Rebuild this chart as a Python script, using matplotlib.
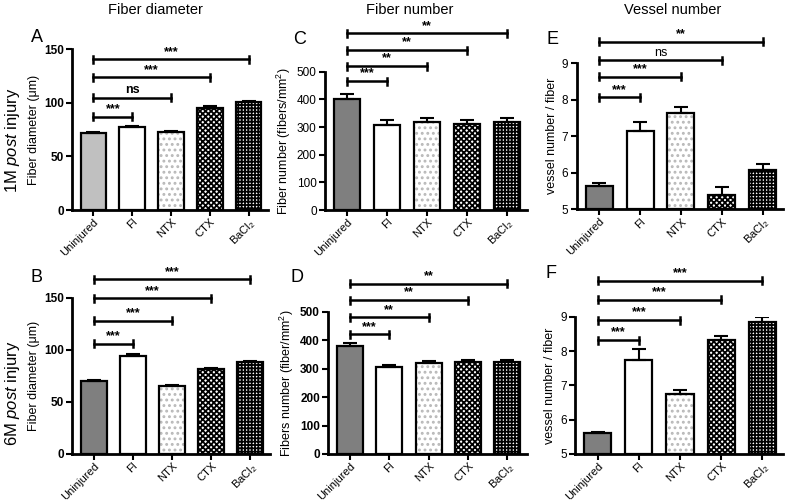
import matplotlib
matplotlib.use("Agg")
import matplotlib.pyplot as plt
import numpy as np

plt.rcParams['font.family'] = ['Liberation Sans', 'DejaVu Sans']
plt.rcParams['mathtext.fontset'] = 'custom'
plt.rcParams['mathtext.rm'] = 'Liberation Sans'
plt.rcParams['mathtext.it'] = 'Liberation Sans:italic'
plt.rcParams['mathtext.bf'] = 'Liberation Sans:bold'
plt.rcParams['hatch.linewidth'] = 1.3

# data
groups = ['Uninjured', 'FI', 'NTX', 'CTX', 'BaCl$_2$']

diam_1m = [71.8, 77.5, 73.0, 95.5, 100.5]
diam_1m_err = [0.8, 1.0, 0.7, 1.5, 1.2]
diam_6m = [70.5, 94.0, 65.0, 82.0, 88.5]
diam_6m_err = [0.8, 1.5, 0.8, 0.8, 0.8]

fnum_1m = [400, 307, 319, 311, 317]
fnum_1m_err = [20, 18, 12, 14, 14]
fnum_6m = [380, 304, 318, 324, 324]
fnum_6m_err = [11, 10, 10, 8, 8]

vess_1m = [5.65, 7.15, 7.65, 5.39, 6.08]
vess_1m_err = [0.06, 0.24, 0.14, 0.21, 0.15]
vess_6m = [5.60, 7.74, 6.75, 8.32, 8.85]
vess_6m_err = [0.05, 0.31, 0.11, 0.12, 0.15]

# significance vs Uninjured (FI, NTX, CTX, BaCl2)
sig_A = ['***', 'ns', '***', '***']
sig_B = ['***', '***', '***', '***']
sig_C = ['***', '**', '**', '**']
sig_D = ['***', '**', '**', '**']
sig_E = ['***', '***', 'ns', '**']
sig_F = ['***', '***', '***', '***']

W, H = 787, 504
fig = plt.figure(figsize=(W / 100, H / 100), dpi=100)


def px_axes(x0, x1, ytop, ybot):
    return fig.add_axes([x0 / W, 1 - ybot / H, (x1 - x0) / W, (ybot - ytop) / H])


panels = [
    dict(box=(72, 268, 49.3, 210), ylim=(0, 150), ticks=[0, 50, 100, 150], vals=diam_1m, err=diam_1m_err,
         sig=sig_A, hb=[87.2, 105, 123.8, 140.6], ylabel='Fiber diameter (μm)', letter='A',
         lpos=(37, 38), bold=True, gray='#c0c0c0', nsbold=True),
    dict(box=(72, 270, 297.7, 454), ylim=(0, 150), ticks=[0, 50, 100, 150], vals=diam_6m, err=diam_6m_err,
         sig=sig_B, hb=[105.6, 127.9, 149.4, 167.7], ylabel='Fiber diameter (μm)', letter='B',
         lpos=(37, 277), bold=True, gray='#7f7f7f', nsbold=True),
    dict(box=(325, 527, 71.7, 210), ylim=(0, 500), ticks=[0, 100, 200, 300, 400, 500], vals=fnum_1m,
         err=fnum_1m_err, sig=sig_C, hb=[466, 520.6, 578, 638.8], ylabel='Fiber number (fibers/mm$^2$)',
         letter='C', lpos=(300, 40), bold=False, gray='#7f7f7f', nsbold=False),
    dict(box=(328.3, 527, 311.7, 454), ylim=(0, 500), ticks=[0, 100, 200, 300, 400, 500], vals=fnum_6m,
         err=fnum_6m_err, sig=sig_D, hb=[420, 480, 541, 599], ylabel='Fibers number (fiber/mm$^2$)',
         letter='D', lpos=(297, 277), bold=True, gray='#7f7f7f', nsbold=False),
    dict(box=(576.7, 783, 63.3, 209.3), ylim=(5, 9), ticks=[5, 6, 7, 8, 9], vals=vess_1m, err=vess_1m_err,
         sig=sig_E, hb=[8.07, 8.63, 9.09, 9.59], ylabel='vessel number / fiber', letter='E',
         lpos=(553, 40), bold=False, gray='#7f7f7f', nsbold=False),
    dict(box=(575, 783, 316.7, 454), ylim=(5, 9), ticks=[5, 6, 7, 8, 9], vals=vess_6m, err=vess_6m_err,
         sig=sig_F, hb=[8.32, 8.90, 9.49, 10.05], ylabel='vessel number / fiber', letter='F',
         lpos=(551, 273), bold=False, gray='#7f7f7f', nsbold=False),
]

x = np.arange(len(groups))
bw = 0.66

for p in panels:
    x0, x1, yt, yb = p['box']
    ax = px_axes(x0, x1, yt, yb)
    lo, hi = p['ylim']
    vals = np.array(p['vals'])
    base = lo
    heights = vals - base

    fills = [p['gray'], 'white', 'white', 'white', 'white']
    hatches = [None, None, '...', 'xxxxxx', '+++++']
    hcols = [None, None, '#b8b8b8', 'black', 'black']
    for i in range(len(groups)):
        if hatches[i]:
            ax.bar(x[i], heights[i], bw, bottom=base, color=fills[i], edgecolor=hcols[i],
                   hatch=hatches[i], linewidth=0, zorder=2)
            ax.bar(x[i], heights[i], bw, bottom=base, fill=False, edgecolor='black',
                   linewidth=1.6, zorder=3)
        else:
            ax.bar(x[i], heights[i], bw, bottom=base, color=fills[i], edgecolor='black',
                   linewidth=1.6, zorder=3)
    err = np.array(p['err'])
    ax.errorbar(x, vals, yerr=[np.zeros_like(err), err], fmt='none', ecolor='black',
                elinewidth=1.5, capsize=5, capthick=1.5, zorder=4)

    ax.set_xlim(-0.55, 4.5)
    ax.set_ylim(lo, hi)
    ax.set_yticks(p['ticks'])
    ax.set_xticks(x)
    ax.set_xticklabels(groups, rotation=45, ha='right', rotation_mode='anchor', fontsize=8)
    for lab in ax.get_yticklabels():
        lab.set_fontsize(8.5)
        if p['bold']:
            lab.set_fontweight('bold')
    ax.set_ylabel(p['ylabel'], fontsize=9, labelpad=3)
    for s in ['top', 'right']:
        ax.spines[s].set_visible(False)
    for s in ['left', 'bottom']:
        ax.spines[s].set_linewidth(2)
    ax.tick_params(axis='both', width=1.5, length=4, pad=2)
    ax.tick_params(axis='x', pad=1)
    ax.patch.set_alpha(0)

    # significance brackets
    unit = (hi - lo) / (yb - yt)  # data units per pixel
    d = 3.5 * unit
    for i, (s, hy) in enumerate(zip(p['sig'], p['hb']), start=1):
        ax.plot([0, i], [hy, hy], color='black', lw=1.8, clip_on=False, zorder=5)
        ax.plot([0, 0], [hy - d, hy + d], color='black', lw=1.8, clip_on=False, zorder=5)
        ax.plot([i, i], [hy - d, hy + d], color='black', lw=1.8, clip_on=False, zorder=5)
        weight = 'bold' if (s != 'ns' or p['nsbold']) else 'normal'
        ax.text(i / 2, hy + 1.5 * unit, s, ha='center', va='bottom', fontsize=9,
                fontweight=weight, clip_on=False)

    fig.text(p['lpos'][0] / W, 1 - p['lpos'][1] / H, p['letter'], ha='center', va='center', fontsize=13)

# column titles
for t, cx in [('Fiber diameter', 155), ('Fiber number', 410), ('Vessel number', 673)]:
    fig.text(cx / W, 1 - 10 / H, t, ha='center', va='center', fontsize=10.5)

# row labels
fig.text(13 / W, 1 - 140 / H, '1M $\\mathit{post}$ injury', rotation=90, ha='center', va='center', fontsize=12)
fig.text(13 / W, 1 - 393 / H, '6M $\\mathit{post}$ injury', rotation=90, ha='center', va='center', fontsize=12)

fig.savefig('out.png', dpi=100)
